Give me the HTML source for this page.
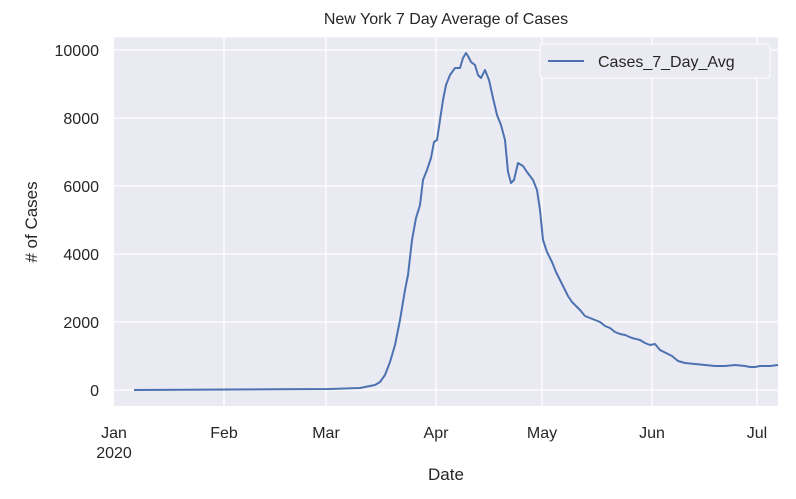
<!DOCTYPE html><html><head><style>body{margin:0;background:#fff}</style></head><body>
<svg width="796" height="494" xmlns="http://www.w3.org/2000/svg" font-family="Liberation Sans, sans-serif">
<rect x="114" y="37.5" width="664" height="368.5" fill="#eaeaf2"/>
<g stroke="#fff" stroke-width="1.3">
<line x1="114" x2="778" y1="50" y2="50"/><line x1="114" x2="778" y1="118" y2="118"/><line x1="114" x2="778" y1="186" y2="186"/><line x1="114" x2="778" y1="254" y2="254"/><line x1="114" x2="778" y1="322" y2="322"/><line x1="114" x2="778" y1="390" y2="390"/>
<line x1="224" x2="224" y1="37.5" y2="406"/><line x1="326" x2="326" y1="37.5" y2="406"/><line x1="436" x2="436" y1="37.5" y2="406"/><line x1="542" x2="542" y1="37.5" y2="406"/><line x1="652" x2="652" y1="37.5" y2="406"/><line x1="757" x2="757" y1="37.5" y2="406"/>
</g>
<polyline fill="none" stroke="#4c72b0" stroke-width="2" stroke-linejoin="round" points="134,390 330,389 360,388 375,385 380,382 385,375 390,362 395,345 400,320 405,290 408,275 412,240 416,218 420,205 423,180 427,170 431,158 434,142 437,140 440,120 443,100 446,85 450,75 455,68 460,68 463,58 466,53 468,56 471,62 475,65 478,75 481,78 485,70 489,80 493,98 497,115 501,125 505,140 508,172 511,183 514,180 518,163 523,166 527,172 533,180 537,190 540,210 543,240 547,252 552,262 556,272 560,280 564,288 568,296 572,302 576,306 580,310 585,316 590,318 595,320 600,322 605,326 610,328 615,332 620,334 625,335 632,338 640,340 645,343 650,345 655,344 660,350 666,353 672,356 678,361 685,363 695,364 705,365 715,366 725,366 735,365 745,366 750,367 755,367 760,366 770,366 778,365"/>
<rect x="540" y="44" width="230" height="34" rx="3" fill="#eaeaf2" stroke="#fff"/>
<line x1="548" x2="584" y1="61" y2="61" stroke="#4c72b0" stroke-width="2"/>
<text x="598" y="67" font-size="16" fill="#262626">Cases_7_Day_Avg</text>
<g font-size="16" fill="#262626" text-anchor="end">
<text x="99" y="56">10000</text><text x="99" y="124">8000</text><text x="99" y="192">6000</text><text x="99" y="260">4000</text><text x="99" y="328">2000</text><text x="99" y="396">0</text>
</g>
<g font-size="16" fill="#262626" text-anchor="middle">
<text x="114" y="438">Jan</text><text x="114" y="458">2020</text><text x="224" y="438">Feb</text><text x="326" y="438">Mar</text><text x="436" y="438">Apr</text><text x="542" y="438">May</text><text x="652" y="438">Jun</text><text x="757" y="438">Jul</text>
<text x="446" y="480" font-size="17">Date</text>
<text x="446" y="24" font-size="16">New York 7 Day Average of Cases</text>
<text transform="translate(37,222) rotate(-90)" font-size="17"># of Cases</text>
</g>
</svg></body></html>
